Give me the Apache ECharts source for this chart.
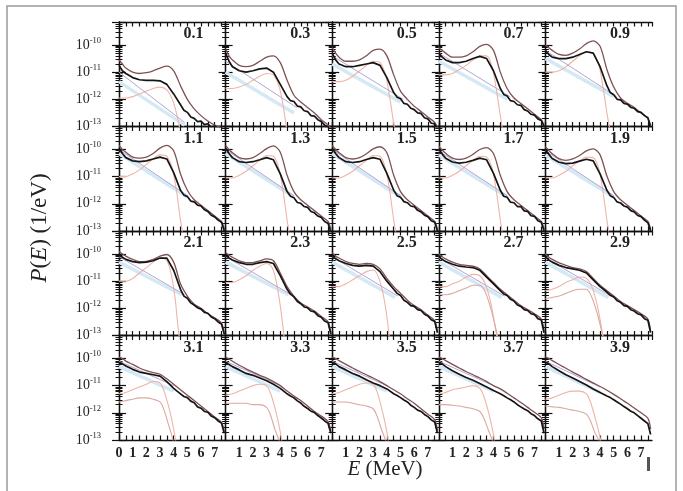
<!DOCTYPE html>
<html><head><meta charset="utf-8">
<script src="https://cdn.jsdelivr.net/npm/echarts@6/dist/echarts.min.js"></script>
<style>html,body{margin:0;padding:0;background:#fff}#c{width:683px;height:491px}</style>
</head><body><div id="c"></div><script>
// ---------------- DATA ----------------
const angles = ['0.1','0.3','0.5','0.7','0.9','1.1','1.3','1.5','1.7','1.9','2.1','2.3','2.5','2.7','2.9','3.1','3.3','3.5','3.7','3.9'];
const energy = [0,0.25,0.5,1,1.5,2,2.5,3,3.5,4,4.5,5,5.5,6,6.5,7,7.5,7.7];
const energyFine = [0,0.25,0.5,1,1.5,2,2.5,3,3.5,4,4.5,4.75,5,5.25,5.5,5.75,6,6.25,6.5,6.75,7,7.25,7.5,7.7];
const xTickLabels = [0,1,2,3,4,5,6,7];
const yTickExponents = [-13,-12,-11,-10];
// log10 P(E) of the measured (black) spectrum on energyFine
const blackLog = [
 [-10.75,-10.95,-11.05,-11.2,-11.28,-11.3,-11.3,-11.32,-11.45,-11.8, -12.2,-12.4,-12.48,-12.65,-12.7,-12.82,-12.8,-12.93,-12.9,-13.02,-12.98,-13.08,-13.05,-13.2],
 [-10.3,-10.6,-10.8,-10.95,-11.0,-10.95,-10.88,-10.85,-11.0,-11.45, -11.9,-12.05,-12.08,-12.25,-12.28,-12.42,-12.45,-12.6,-12.62,-12.75,-12.82,-12.95,-13.02,-13.2],
 [-10.3,-10.55,-10.7,-10.8,-10.8,-10.75,-10.7,-10.65,-10.75,-11.2, -11.75,-11.92,-11.98,-12.15,-12.18,-12.33,-12.38,-12.5,-12.52,-12.68,-12.72,-12.88,-12.9,-13.1],
 [-10.3,-10.45,-10.55,-10.65,-10.65,-10.6,-10.5,-10.42,-10.5,-10.95, -11.6,-11.82,-11.88,-12.05,-12.08,-12.2,-12.22,-12.38,-12.43,-12.55,-12.58,-12.72,-12.78,-13.0],
 [-10.2,-10.35,-10.45,-10.5,-10.5,-10.45,-10.35,-10.25,-10.3,-10.8, -11.5,-11.75,-11.83,-12.0,-12.02,-12.15,-12.18,-12.3,-12.33,-12.45,-12.48,-12.6,-12.68,-13.05],
 [-9.95,-10.15,-10.3,-10.42,-10.45,-10.42,-10.35,-10.28,-10.35,-10.85, -11.5,-11.68,-11.73,-11.9,-11.93,-12.05,-12.08,-12.22,-12.28,-12.42,-12.48,-12.6,-12.68,-13.0],
 [-9.95,-10.15,-10.3,-10.45,-10.48,-10.45,-10.38,-10.3,-10.38,-10.9, -11.55,-11.72,-11.78,-11.95,-11.98,-12.1,-12.13,-12.28,-12.33,-12.45,-12.5,-12.65,-12.72,-13.05],
 [-9.95,-10.15,-10.3,-10.45,-10.48,-10.45,-10.37,-10.3,-10.36,-10.88, -11.5,-11.7,-11.76,-11.92,-11.96,-12.08,-12.1,-12.24,-12.3,-12.42,-12.47,-12.62,-12.68,-13.0],
 [-9.98,-10.17,-10.32,-10.46,-10.5,-10.47,-10.4,-10.32,-10.38,-10.88, -11.5,-11.72,-11.76,-11.94,-11.96,-12.1,-12.1,-12.26,-12.28,-12.44,-12.46,-12.62,-12.68,-13.0],
 [-10.0,-10.18,-10.33,-10.47,-10.52,-10.5,-10.43,-10.36,-10.42,-10.9, -11.5,-11.7,-11.77,-11.93,-11.97,-12.08,-12.12,-12.25,-12.3,-12.43,-12.47,-12.6,-12.7,-13.0],
 [-10.05,-10.12,-10.2,-10.28,-10.32,-10.3,-10.25,-10.15,-10.15,-10.6, -11.3,-11.55,-11.63,-11.8,-11.88,-11.98,-12.03,-12.15,-12.18,-12.32,-12.38,-12.5,-12.58,-12.95],
 [-10.05,-10.15,-10.22,-10.32,-10.38,-10.38,-10.32,-10.28,-10.35,-10.8, -11.3,-11.48,-11.58,-11.75,-11.83,-11.95,-11.98,-12.1,-12.13,-12.27,-12.33,-12.47,-12.53,-12.95],
 [-10.05,-10.18,-10.25,-10.35,-10.42,-10.45,-10.42,-10.45,-10.65,-11.0, -11.3,-11.45,-11.53,-11.7,-11.78,-11.9,-11.93,-12.05,-12.08,-12.22,-12.28,-12.42,-12.48,-12.9],
 [-10.1,-10.2,-10.28,-10.38,-10.45,-10.48,-10.5,-10.6,-10.85,-11.1, -11.35,-11.47,-11.53,-11.67,-11.73,-11.88,-11.93,-12.05,-12.08,-12.2,-12.23,-12.38,-12.43,-12.9],
 [-10.1,-10.22,-10.3,-10.42,-10.5,-10.55,-10.6,-10.7,-10.95,-11.2, -11.4,-11.52,-11.58,-11.72,-11.78,-11.9,-11.93,-12.05,-12.1,-12.2,-12.24,-12.38,-12.44,-12.9],
 [-10.15,-10.2,-10.28,-10.4,-10.5,-10.55,-10.6,-10.65,-10.85,-11.1, -11.3,-11.4,-11.44,-11.57,-11.63,-11.78,-11.83,-11.95,-11.98,-12.12,-12.18,-12.3,-12.38,-12.75],
 [-10.15,-10.22,-10.3,-10.42,-10.55,-10.62,-10.72,-10.82,-10.95,-11.1, -11.3,-11.38,-11.45,-11.56,-11.64,-11.76,-11.84,-11.94,-11.99,-12.1,-12.19,-12.3,-12.39,-12.75],
 [-10.15,-10.2,-10.3,-10.42,-10.55,-10.65,-10.78,-10.9,-11.0,-11.12, -11.3,-11.36,-11.44,-11.53,-11.6,-11.72,-11.8,-11.9,-11.95,-12.06,-12.14,-12.26,-12.34,-12.75],
 [-10.15,-10.2,-10.3,-10.45,-10.58,-10.7,-10.8,-10.92,-11.05,-11.18, -11.3,-11.37,-11.45,-11.52,-11.6,-11.7,-11.78,-11.86,-11.92,-12.03,-12.1,-12.22,-12.3,-12.75],
 [-10.15,-10.2,-10.3,-10.45,-10.6,-10.72,-10.85,-10.98,-11.12,-11.25, -11.38,-11.44,-11.52,-11.6,-11.68,-11.77,-11.85,-11.94,-12.0,-12.1,-12.2,-12.3,-12.4,-12.8]
];
// log10 P(E) of the total simulated (dark red) spectrum on energy
const totalLog = [
 [-10.55,-10.7,-10.85,-11.0,-11.05,-11.02,-10.95,-10.85,-10.78,-10.95,-11.5,-12.0,-12.35,-12.6,-12.8,-12.95,-13.05,-13.15],
 [-10.15,-10.4,-10.55,-10.75,-10.8,-10.75,-10.6,-10.45,-10.4,-10.65,-11.3,-11.85,-12.1,-12.3,-12.5,-12.75,-12.95,-13.1],
 [-10.1,-10.3,-10.45,-10.6,-10.6,-10.55,-10.4,-10.2,-10.15,-10.4,-11.1,-11.7,-12.0,-12.25,-12.45,-12.65,-12.85,-13.05],
 [-10.1,-10.2,-10.3,-10.45,-10.45,-10.4,-10.25,-10.05,-9.98,-10.2,-11.0,-11.6,-11.95,-12.15,-12.35,-12.55,-12.75,-12.95],
 [-10.0,-10.1,-10.2,-10.35,-10.38,-10.3,-10.15,-9.95,-9.85,-10.05,-10.9,-11.55,-11.95,-12.15,-12.3,-12.5,-12.7,-12.95],
 [-9.85,-10.0,-10.1,-10.28,-10.32,-10.28,-10.15,-9.95,-9.85,-10.05,-10.9,-11.5,-11.85,-12.05,-12.25,-12.45,-12.65,-12.95],
 [-9.85,-10.0,-10.12,-10.3,-10.35,-10.3,-10.15,-9.97,-9.87,-10.1,-10.95,-11.55,-11.85,-12.05,-12.25,-12.45,-12.65,-12.95],
 [-9.85,-10.0,-10.12,-10.3,-10.35,-10.3,-10.16,-9.98,-9.9,-10.12,-10.95,-11.55,-11.85,-12.05,-12.25,-12.45,-12.65,-12.95],
 [-9.88,-10.02,-10.14,-10.32,-10.37,-10.32,-10.18,-10.0,-9.93,-10.15,-10.95,-11.55,-11.85,-12.05,-12.25,-12.45,-12.65,-12.95],
 [-9.9,-10.04,-10.16,-10.34,-10.4,-10.35,-10.22,-10.05,-9.98,-10.2,-10.98,-11.55,-11.85,-12.05,-12.25,-12.45,-12.65,-12.95],
 [-9.9,-10.0,-10.08,-10.2,-10.28,-10.27,-10.2,-10.08,-10.02,-10.3,-11.1,-11.55,-11.85,-12.0,-12.2,-12.35,-12.55,-12.9],
 [-9.95,-10.05,-10.12,-10.25,-10.32,-10.32,-10.25,-10.18,-10.25,-10.7,-11.2,-11.55,-11.8,-11.95,-12.1,-12.3,-12.5,-12.9],
 [-9.95,-10.08,-10.15,-10.28,-10.35,-10.38,-10.35,-10.38,-10.55,-10.9,-11.2,-11.45,-11.7,-11.9,-12.05,-12.25,-12.45,-12.85],
 [-10.0,-10.1,-10.18,-10.3,-10.38,-10.42,-10.45,-10.55,-10.8,-11.05,-11.3,-11.5,-11.7,-11.9,-12.05,-12.2,-12.4,-12.85],
 [-10.0,-10.12,-10.2,-10.33,-10.42,-10.5,-10.55,-10.65,-10.9,-11.15,-11.35,-11.55,-11.75,-11.9,-12.05,-12.2,-12.4,-12.85],
 [-9.95,-10.0,-10.1,-10.22,-10.35,-10.45,-10.52,-10.58,-10.75,-10.95,-11.15,-11.35,-11.55,-11.75,-11.95,-12.15,-12.35,-12.7],
 [-9.95,-10.02,-10.1,-10.25,-10.38,-10.5,-10.62,-10.72,-10.85,-11.0,-11.2,-11.38,-11.55,-11.75,-11.95,-12.12,-12.32,-12.7],
 [-9.95,-10.0,-10.08,-10.22,-10.35,-10.48,-10.6,-10.72,-10.85,-11.0,-11.15,-11.3,-11.48,-11.65,-11.85,-12.05,-12.25,-12.65],
 [-9.95,-10.0,-10.08,-10.22,-10.35,-10.48,-10.6,-10.72,-10.85,-11.0,-11.12,-11.28,-11.45,-11.62,-11.8,-11.98,-12.18,-12.6],
 [-9.95,-10.0,-10.08,-10.22,-10.36,-10.5,-10.63,-10.77,-10.9,-11.03,-11.17,-11.32,-11.48,-11.65,-11.82,-12.0,-12.2,-12.6]
];
// peak component (light red): [E, log10 P]
const peakLog = [
 [[0,-11.95],[0.5,-11.95],[1,-11.9],[1.5,-11.8],[2,-11.7],[2.5,-11.6],[3,-11.55],[3.5,-11.65],[3.9,-12.0],[4.2,-12.5],[4.5,-13.2]],
 [[0,-11.6],[0.5,-11.6],[1,-11.55],[1.5,-11.45],[2,-11.3],[2.5,-11.15],[3,-11.05],[3.5,-11.1],[3.9,-11.5],[4.2,-12.2],[4.5,-13.2]],
 [[0,-11.35],[0.5,-11.35],[1,-11.3],[1.5,-11.15],[2,-10.95],[2.5,-10.75],[3,-10.6],[3.5,-10.65],[3.9,-11.1],[4.2,-11.9],[4.5,-12.9],[4.6,-13.2]],
 [[0,-11.1],[0.5,-11.1],[1,-11.05],[1.5,-10.9],[2,-10.75],[2.5,-10.55],[3,-10.4],[3.5,-10.4],[3.9,-10.8],[4.2,-11.6],[4.5,-12.6],[4.7,-13.2]],
 [[0,-11.0],[0.5,-11.0],[1,-10.95],[1.5,-10.8],[2,-10.6],[2.5,-10.4],[3,-10.25],[3.5,-10.3],[3.9,-10.7],[4.2,-11.5],[4.5,-12.5],[4.75,-13.2]],
 [[0,-11.0],[0.5,-11.0],[1,-10.9],[1.5,-10.75],[2,-10.55],[2.5,-10.35],[3,-10.2],[3.5,-10.25],[3.9,-10.7],[4.2,-11.5],[4.5,-12.6],[4.7,-13.2]],
 [[0,-11.05],[0.5,-11.05],[1,-10.95],[1.5,-10.8],[2,-10.6],[2.5,-10.4],[3,-10.22],[3.5,-10.25],[3.9,-10.7],[4.2,-11.5],[4.5,-12.6],[4.7,-13.2]],
 [[0,-11.05],[0.5,-11.05],[1,-10.95],[1.5,-10.8],[2,-10.6],[2.5,-10.4],[3,-10.22],[3.5,-10.25],[3.9,-10.7],[4.2,-11.5],[4.5,-12.6],[4.7,-13.2]],
 [[0,-11.05],[0.5,-11.05],[1,-10.95],[1.5,-10.8],[2,-10.6],[2.5,-10.4],[3,-10.25],[3.5,-10.28],[3.9,-10.7],[4.2,-11.5],[4.5,-12.6],[4.7,-13.2]],
 [[0,-11.05],[0.5,-11.05],[1,-10.95],[1.5,-10.8],[2,-10.6],[2.5,-10.42],[3,-10.28],[3.5,-10.3],[3.9,-10.7],[4.2,-11.5],[4.5,-12.6],[4.7,-13.2]],
 [[0,-11.0],[0.5,-11.0],[1,-10.9],[1.5,-10.7],[2,-10.5],[2.5,-10.3],[3,-10.15],[3.5,-10.25],[3.8,-10.7],[4.1,-11.6],[4.3,-12.6],[4.45,-13.2]],
 [[0,-11.05],[0.5,-11.05],[1,-10.95],[1.5,-10.8],[2,-10.6],[2.5,-10.45],[3,-10.35],[3.4,-10.5],[3.7,-11.0],[4.0,-11.9],[4.2,-12.7],[4.3,-13.2]],
 [[0,-11.2],[0.5,-11.2],[1,-11.1],[1.5,-10.95],[2,-10.8],[2.5,-10.65],[3,-10.6],[3.3,-10.75],[3.7,-11.4],[4.0,-12.3],[4.2,-13.2]],
 [[0,-11.2],[0.5,-11.2],[1,-11.1],[1.5,-11.0],[2,-10.85],[2.5,-10.75],[3,-10.8],[3.4,-11.1],[3.8,-11.8],[4.1,-12.6],[4.3,-13.2]],
 [[0,-11.35],[0.5,-11.3],[1,-11.2],[1.5,-11.05],[2,-10.95],[2.5,-10.85],[3,-10.9],[3.4,-11.2],[3.8,-11.9],[4.1,-12.7],[4.25,-13.2]],
 [[0,-11.3],[0.5,-11.25],[1,-11.15],[1.5,-11.05],[2,-10.95],[2.5,-10.85],[3,-10.9],[3.3,-11.2],[3.7,-11.9],[4.0,-12.6],[4.2,-13.2]],
 [[0,-11.35],[0.5,-11.3],[1,-11.2],[1.5,-11.1],[2,-11.0],[2.5,-10.95],[3,-11.0],[3.3,-11.3],[3.7,-12.0],[4.0,-12.7],[4.15,-13.2]],
 [[0,-11.3],[0.5,-11.25],[1,-11.15],[1.5,-11.05],[2,-10.95],[2.5,-10.9],[3,-10.95],[3.3,-11.25],[3.7,-12.0],[4.0,-12.7],[4.15,-13.2]],
 [[0,-11.3],[0.5,-11.25],[1,-11.15],[1.5,-11.1],[2,-11.05],[2.5,-11.0],[3,-11.1],[3.3,-11.4],[3.7,-12.1],[4.0,-12.8],[4.1,-13.2]],
 [[0,-11.5],[0.5,-11.45],[1,-11.35],[1.5,-11.25],[2,-11.2],[2.5,-11.2],[3,-11.3],[3.3,-11.6],[3.7,-12.3],[4.0,-12.9],[4.1,-13.2]]
];
// second (lower) peak component, visible from 2.7 on: [E, log10 P]
const peak2Log = [
 null,null,null,null,null,null,null,null,null,null,null,null,null,
 [[0,-11.5],[0.5,-11.5],[1,-11.45],[1.5,-11.35],[2,-11.25],[2.5,-11.15],[3,-11.15],[3.4,-11.4],[3.8,-12.0],[4.2,-12.8],[4.35,-13.2]],
 [[0,-11.65],[0.5,-11.6],[1,-11.55],[1.5,-11.45],[2,-11.35],[2.5,-11.3],[3,-11.3],[3.4,-11.6],[3.8,-12.2],[4.2,-13.0],[4.3,-13.2]],
 [[0,-11.6],[0.5,-11.55],[1,-11.5],[1.5,-11.45],[2,-11.45],[2.5,-11.5],[3,-11.6],[3.3,-11.9],[3.6,-12.4],[3.9,-12.9],[4.0,-13.2]],
 [[0,-11.65],[0.5,-11.65],[1,-11.65],[1.5,-11.65],[2,-11.7],[2.5,-11.7],[3,-11.8],[3.3,-12.1],[3.6,-12.6],[3.9,-13.0],[4.0,-13.2]],
 [[0,-11.6],[0.5,-11.6],[1,-11.6],[1.5,-11.65],[2,-11.7],[2.5,-11.75],[3,-11.85],[3.3,-12.15],[3.6,-12.6],[3.9,-13.0],[4.0,-13.2]],
 [[0,-11.7],[0.5,-11.7],[1,-11.72],[1.5,-11.75],[2,-11.8],[2.5,-11.85],[3,-11.95],[3.3,-12.2],[3.6,-12.6],[3.9,-13.0],[4.0,-13.2]],
 [[0,-11.75],[0.5,-11.78],[1,-11.8],[1.5,-11.85],[2,-11.9],[2.5,-11.95],[3,-12.05],[3.3,-12.3],[3.6,-12.7],[3.9,-13.0],[4.0,-13.2]]
];
// exponential component (light blue band): [E, log10 P] end points
const expoLog = [
 [[0,-11.35],[4.8,-12.95]],[[0,-11.0],[5,-12.5]],[[0,-10.7],[5,-12.1]],[[0,-10.6],[5,-12.0]],[[0,-10.5],[5,-11.9]],
 [[0,-10.15],[5,-11.75]],[[0,-10.15],[5,-11.75]],[[0,-10.15],[5,-11.75]],[[0,-10.2],[5,-11.75]],[[0,-10.2],[5,-11.75]],
 [[0,-10.3],[4.6,-11.5]],[[0,-10.3],[4.6,-11.5]],[[0,-10.3],[4.6,-11.6]],[[0,-10.3],[4.6,-11.6]],[[0,-10.3],[4.6,-11.6]],
 [[0,-10.3],[4,-11.2]],[[0,-10.3],[4,-11.2]],[[0,-10.3],[4,-11.2]],[[0,-10.3],[4,-11.2]],[[0,-10.3],[4,-11.25]]
];
// exponential fit (thin violet line): [E, log10 P] end points
const fitLog = [
 [[0,-11.0],[4.8,-12.85]],[[0,-10.6],[5.2,-12.3]],[[0,-10.4],[5.2,-12.0]],[[0,-10.3],[5.2,-11.9]],[[0,-10.2],[5.2,-11.9]],
 [[0,-10.0],[5,-11.7]],[[0,-10.0],[5,-11.7]],[[0,-10.0],[5,-11.7]],[[0,-10.05],[5,-11.7]],[[0,-10.05],[5,-11.7]],
 [[0,-10.1],[4.8,-11.5]],[[0,-10.1],[4.8,-11.5]],[[0,-10.1],[4.8,-11.55]],[[0,-10.15],[4.8,-11.55]],[[0,-10.15],[4.8,-11.55]],
 [[0,-10.1],[4,-11.0]],[[0,-10.1],[4,-11.0]],[[0,-10.1],[4,-11.0]],[[0,-10.1],[4,-11.0]],[[0,-10.1],[4,-11.05]]
];

// ---------------- LAYOUT / STYLE ----------------
const L0 = 119, T0 = 22, CW = 106.6, CH = 104.5, NC = 5, NR = 4;
const XMAX = 7.8, YMIN = 1e-13, YMAX = 7e-10;
const FONT = 'Liberation Serif';
const pw = v => Math.pow(10, v);

const grids = [], xAxes = [], yAxes = [], series = [], graphics = [];
angles.forEach((ang, i) => {
  const r = Math.floor(i / NC), c = i % NC;
  const left = L0 + c * CW, top = T0 + r * CH;
  grids.push({left: left, top: top, width: CW, height: CH});
  const xBase = {
    type: 'value', gridIndex: i, min: 0, max: XMAX, interval: 0.5,
    axisLine: {show: true, onZero: false, lineStyle: {color: '#111', width: 1.3}},
    axisTick: {show: true, inside: true, length: 4.5, lineStyle: {color: '#111', width: 1.2}},
    splitLine: {show: false}
  };
  xAxes.push(Object.assign({}, xBase, {
    position: 'bottom',
    axisLabel: {
      show: r === NR - 1, margin: 6, fontFamily: FONT, fontSize: 14, fontWeight: 'bold', color: '#222',
      showMaxLabel: false,
      formatter: v => (xTickLabels.indexOf(v) >= 0 && !(c > 0 && v === 0)) ? String(v) : ''
    }
  }));
  xAxes.push(Object.assign({}, xBase, {position: 'top', axisLabel: {show: false}}));
  const yBase = {
    type: 'log', logBase: 10, gridIndex: i, min: YMIN, max: YMAX,
    axisLine: {show: true, lineStyle: {color: '#111', width: 1.3}},
    axisTick: {show: true, inside: true, length: 7, lineStyle: {color: '#111', width: 1.2}},
    minorTick: {show: true, splitNumber: 9, length: 3.5, lineStyle: {color: '#111', width: 1}},
    splitLine: {show: false}
  };
  yAxes.push(Object.assign({}, yBase, {
    position: 'left',
    axisLabel: {
      show: c === 0, margin: 18, showMaxLabel: false,
      formatter: v => {
        const e = Math.round(Math.log10(v));
        if (Math.abs(Math.log10(v) - e) > 1e-6 || yTickExponents.indexOf(e) < 0) return '';
        return '{b|10}{s|' + e + '}';
      },
      rich: {
        b: {fontFamily: FONT, fontSize: 14, color: '#222'},
        s: {fontFamily: FONT, fontSize: 8.5, color: '#222', verticalAlign: 'top', padding: [0, 0, 9, 0]}
      }
    }
  }));
  yAxes.push(Object.assign({}, yBase, {position: 'right', axisLabel: {show: false}}));
  const xi = 2 * i, yi = 2 * i;
  const mk = (name, data, color, width, smooth, z) => ({
    type: 'line', name: name, xAxisIndex: xi, yAxisIndex: yi, data: data,
    showSymbol: false, symbol: 'none', smooth: smooth, z: z, clip: true,
    lineStyle: {color: color, width: width}
  });
  series.push(mk('expo', expoLog[i].map(p => [p[0], pw(p[1])]), '#d5e9f5', 3.5, false, 1));
  series.push(mk('peak', peakLog[i].map(p => [p[0], pw(p[1])]), '#efb4a6', 1.1, 0.3, 2));
  if (peak2Log[i]) series.push(mk('peak2', peak2Log[i].map(p => [p[0], pw(p[1])]), '#dca89f', 1.1, 0.3, 2));
  series.push(mk('fit', fitLog[i].map(p => [p[0], pw(p[1])]), '#b3a6d2', 1, false, 3));
  series.push(mk('total', energy.map((e, k) => [e, pw(totalLog[i][k])]), '#7f5152', 1.3, 0.3, 4));
  series.push(mk('measured', energyFine.map((e, k) => [e, pw(blackLog[i][k])]), '#151515', 1.7, false, 5));
  graphics.push({
    type: 'text', left: left + CW - 42, top: top + 4, z: 10,
    style: {text: ang, fontFamily: FONT, fontSize: 16, fontWeight: 'bold', fill: '#222', width: 39, align: 'right'}
  });
});

graphics.push({type: 'rect', shape: {x: 7, y: 6, width: 669, height: 490}, style: {fill: 'none', stroke: '#9a9a9a', lineWidth: 1.5}, z: 0});
graphics.push({type: 'rect', shape: {x: 647, y: 457, width: 3, height: 14}, style: {fill: '#555'}, z: 1});
graphics.push({
  type: 'text', x: 40, y: 228, rotation: Math.PI / 2, z: 10,
  style: {
    text: '{i|P}({i|E}) (1/eV)', align: 'center', verticalAlign: 'middle',
    fontFamily: FONT, fontSize: 23, fill: '#222',
    rich: {i: {fontFamily: FONT, fontSize: 23, fontStyle: 'italic', fill: '#222'}}
  }
});
graphics.push({
  type: 'text', x: 385, y: 469, z: 10,
  style: {
    text: '{i|E} (MeV)', align: 'center', verticalAlign: 'middle',
    fontFamily: FONT, fontSize: 21, fill: '#222',
    rich: {i: {fontFamily: FONT, fontSize: 21, fontStyle: 'italic', fill: '#222'}}
  }
});

const chart = echarts.init(document.getElementById('c'), null, {renderer: 'canvas'});
chart.setOption({
  animation: false,
  backgroundColor: '#fff',
  grid: grids, xAxis: xAxes, yAxis: yAxes, series: series, graphic: graphics
});
</script></body></html>
